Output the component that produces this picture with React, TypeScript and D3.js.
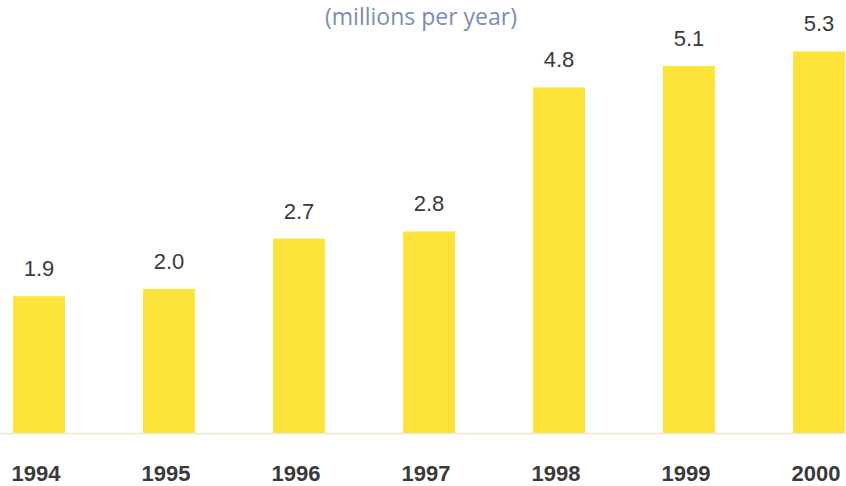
import React from "react";
import * as d3 from "d3";

const years = ["1994", "1995", "1996", "1997", "1998", "1999", "2000"];
const values = [1.9, 2.0, 2.7, 2.8, 4.8, 5.1, 5.3];
const valueLabels = ["1.9", "2.0", "2.7", "2.8", "4.8", "5.1", "5.3"];
const title = "(millions per year)";

export default function App() {
  const W = 846, H = 486;
  const x = d3.scaleBand<string>().domain(years).range([13, 845]).paddingInner(0.6).paddingOuter(0);
  const y = d3.scaleLinear().domain([0, 6]).range([433, 1]);
  return (
    <svg width={W} height={H} style={{ position: "absolute", left: 0, top: 0, background: "#fff" }}>
      <text x={421} y={25} textAnchor="middle" fontFamily="'Open Sans', sans-serif" fontSize={23} fill="#7b8db4">{title}</text>
      <line x1={0} x2={W} y1={y(0) + 0.5} y2={y(0) + 0.5} stroke="#efe6cf" strokeWidth={1.5} />
      {years.map((yr, i) => {
        const bx = x(yr)!;
        const bw = x.bandwidth();
        const cx = bx + bw / 2;
        return (
          <g key={yr}>
            <rect x={bx} y={y(values[i])} width={bw} height={y(0) - y(values[i])} fill="#fde43a" />
            <text x={cx} y={y(values[i]) - 20} textAnchor="middle" fontFamily="'Liberation Sans', Arial, sans-serif" fontSize={22} fill="#3a3a3a">{valueLabels[i]}</text>
            <text x={cx - 3} y={481} textAnchor="middle" fontFamily="'Liberation Sans', Arial, sans-serif" fontWeight="bold" fontSize={22} fill="#3a3a3a">{yr}</text>
          </g>
        );
      })}
    </svg>
  );
}
